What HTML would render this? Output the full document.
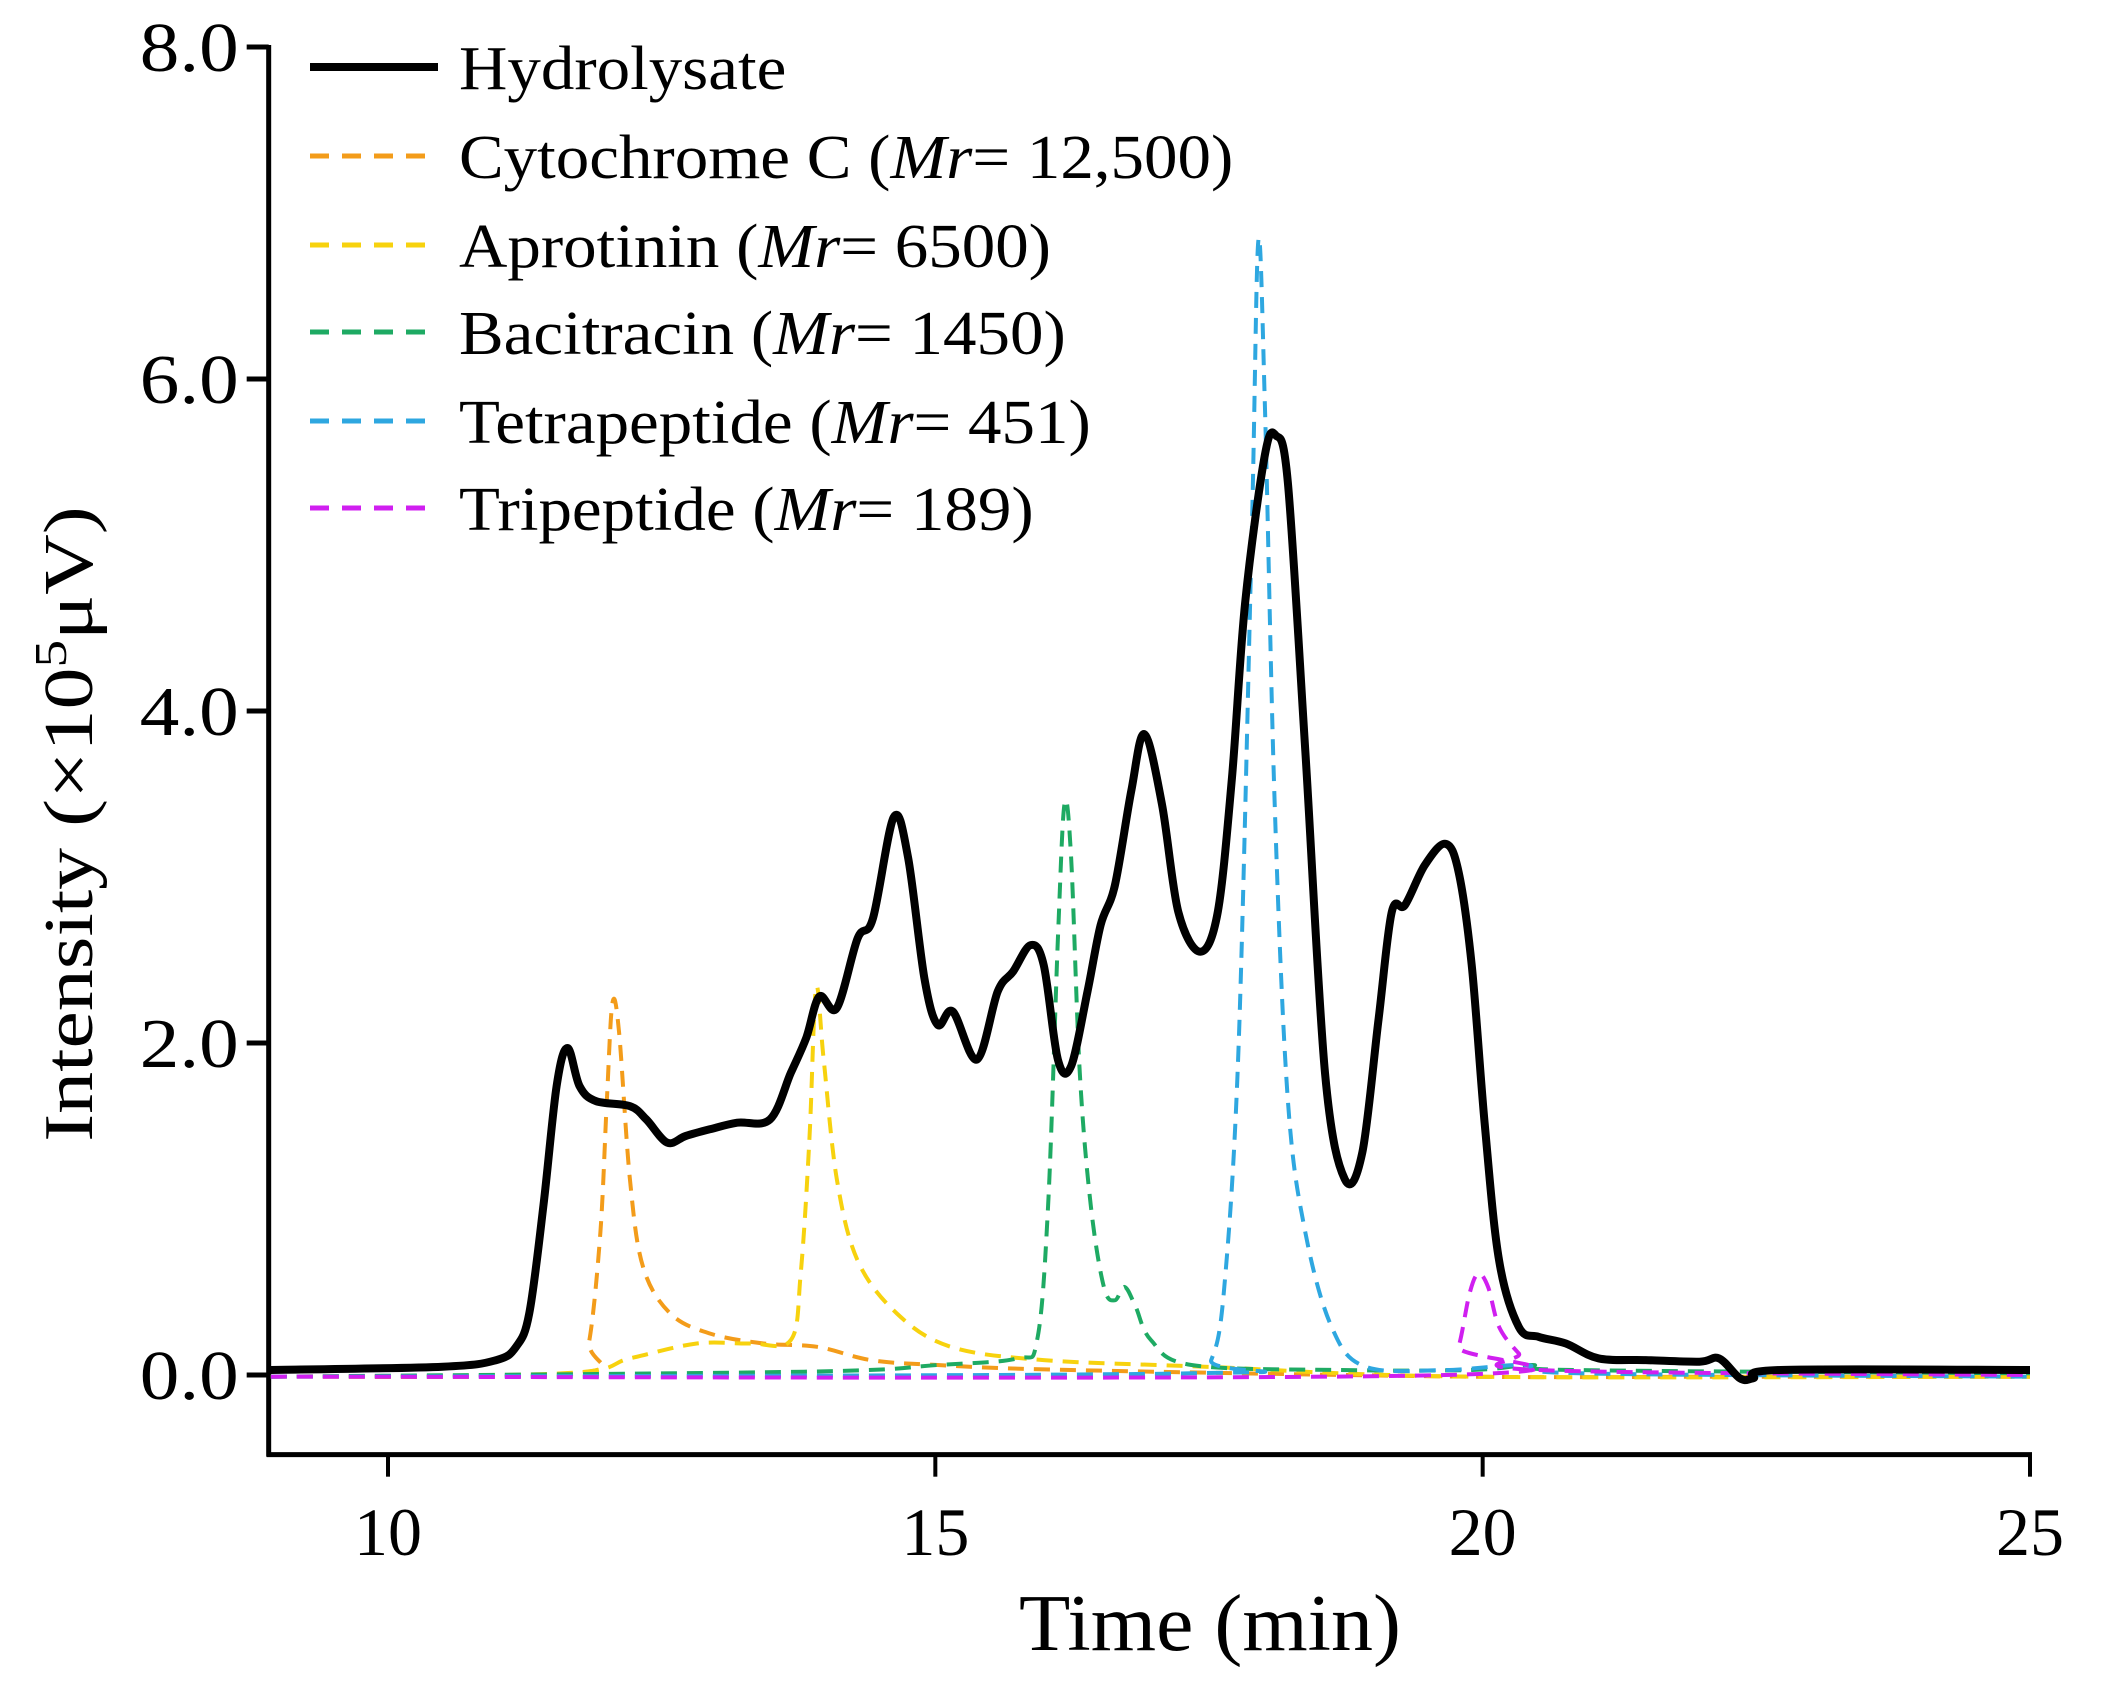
<!DOCTYPE html>
<html><head><meta charset="utf-8"><style>
html,body{margin:0;padding:0;background:#fff;}
svg{display:block;font-family:"Liberation Serif",serif;}
</style></head><body>
<svg id="chart" width="2101" height="1693" viewBox="0 0 2101 1693"></svg>
<script>
const xTicks=[10,15,20,25];
const yTicks=[0,2,4,6,8];
const yTickLabels=["0.0","2.0","4.0","6.0","8.0"];
const hydroT=[8.93,10.5,10.99,11.17,11.29,11.42,11.54,11.64,11.75,11.9,12.21,12.36,12.55,12.72,12.94,13.19,13.49,13.68,13.82,13.94,14.1,14.29,14.43,14.62,14.75,14.9,15.02,15.16,15.38,15.57,15.71,15.87,15.99,16.12,16.24,16.39,16.51,16.64,16.79,16.91,17.07,17.22,17.42,17.58,17.71,17.83,18.01,18.11,18.22,18.38,18.56,18.74,18.9,19.05,19.17,19.29,19.47,19.66,19.78,19.9,20.02,20.15,20.33,20.51,20.76,21.06,21.49,21.98,22.16,22.35,22.47,22.72,25];
const hydroV=[0.03,0.05,0.09,0.17,0.37,1.02,1.74,1.97,1.74,1.65,1.62,1.54,1.40,1.44,1.48,1.52,1.54,1.82,2.03,2.28,2.21,2.63,2.75,3.36,3.12,2.39,2.11,2.19,1.90,2.31,2.43,2.59,2.47,1.90,1.86,2.31,2.71,2.95,3.52,3.86,3.44,2.79,2.55,2.79,3.60,4.65,5.54,5.66,5.38,3.76,1.82,1.18,1.34,2.15,2.79,2.83,3.07,3.20,3.03,2.47,1.50,0.69,0.29,0.23,0.19,0.10,0.09,0.08,0.10,-0.02,-0.02,0.03,0.03];
const cytoT=[8.93,11.72,11.84,11.94,12.0,12.05,12.11,12.21,12.33,12.58,12.94,13.43,13.92,14.41,15.02,16.24,19.9,22.3,25];
const cytoV=[-0.01,0.01,0.21,0.86,1.66,2.24,2.07,1.18,0.65,0.37,0.25,0.19,0.17,0.09,0.06,0.03,-0.01,-0.01,-0.01];
const aproT=[8.93,11.6,12.21,12.82,13.31,13.68,13.77,13.85,13.91,13.98,14.1,14.29,14.65,15.14,15.99,17.46,19.9,25];
const aproV=[-0.01,0.01,0.1,0.19,0.19,0.21,0.61,1.42,2.33,1.9,1.18,0.69,0.37,0.17,0.09,0.05,-0.01,-0.01];
const baciT=[8.93,13.8,15.02,15.75,15.93,16.03,16.12,16.18,16.24,16.32,16.42,16.54,16.64,16.73,16.83,16.97,17.34,18.68,19.9,20.45,20.82,25];
const baciV=[-0.01,0.02,0.06,0.1,0.21,1.02,2.63,3.44,3.12,1.82,1.02,0.53,0.45,0.53,0.41,0.21,0.06,0.03,0.03,0.06,0.03,0.01];
const tetraT=[8.93,17.34,17.52,17.64,17.77,17.89,17.95,18.01,18.1,18.22,18.38,18.62,18.93,19.66,20.39,20.88,25];
const tetraV=[-0.01,0.01,0.09,0.53,1.98,5.05,6.83,5.86,3.44,1.66,0.86,0.29,0.05,0.03,0.06,0.01,-0.01];
const triT=[8.93,19.66,19.78,19.88,19.96,20.05,20.15,20.33,20.51,25];
const triV=[-0.01,0.0,0.17,0.49,0.61,0.53,0.29,0.13,0.03,0.0];
const legendLabels=["Hydrolysate","Cytochrome C","Aprotinin","Bacitracin","Tetrapeptide","Tripeptide"];
const legendMr=[null,"12,500","6500","1450","451","189"];

const NS="http://www.w3.org/2000/svg";
const svg=document.getElementById('chart');
const X0=8.91,X1=25,Y0=-0.48;
function sx(t){return 388+(t-10)*(2030-388)/15;}
function sy(v){return 1375-v*(1375-47)/8;}
function mk(tag,attrs,parent){const e=document.createElementNS(NS,tag);for(const k in attrs)e.setAttribute(k,attrs[k]);(parent||svg).appendChild(e);return e;}
function stretch(el,k){const w=el.getComputedTextLength();el.setAttribute('textLength',(w*k).toFixed(1));el.setAttribute('lengthAdjust','spacingAndGlyphs');}
function smooth(ts,vs){
  const p=ts.map((t,i)=>[sx(t),sy(vs[i])]);
  let d=`M${p[0][0].toFixed(1)},${p[0][1].toFixed(1)}`;
  for(let i=0;i<p.length-1;i++){
    const p0=p[Math.max(0,i-1)],p1=p[i],p2=p[i+1],p3=p[Math.min(p.length-1,i+2)];
    const k=1/6;
    const c1=[p1[0]+(p2[0]-p0[0])*k,p1[1]+(p2[1]-p0[1])*k];
    const c2=[p2[0]-(p3[0]-p1[0])*k,p2[1]-(p3[1]-p1[1])*k];
    d+=`C${c1[0].toFixed(1)},${c1[1].toFixed(1)} ${c2[0].toFixed(1)},${c2[1].toFixed(1)} ${p2[0].toFixed(1)},${p2[1].toFixed(1)}`;
  }
  return d;
}
const ax=mk('g',{});


const yAxis=mk('line',{x1:sx(X0),y1:sy(8)-2,x2:sx(X0),y2:sy(Y0)+2,stroke:'#000','stroke-width':5},ax);


const xAxis=mk('line',{x1:sx(X0)-2,y1:sy(Y0),x2:sx(X1)+2,y2:sy(Y0),stroke:'#000','stroke-width':5},ax);


yTicks.forEach((v,i)=>{
  const tk=mk('line',{x1:sx(X0)-22,y1:sy(v),x2:sx(X0),y2:sy(v),stroke:'#000','stroke-width':5},ax);
  
  
  const tl=mk('text',{x:sx(X0)-30,y:sy(v)+24,'text-anchor':'end','font-size':70},ax);
  tl.textContent=yTickLabels[i];
  
  
  stretch(tl,1.13);
});
xTicks.forEach(t=>{
  const tk=mk('line',{x1:sx(t),y1:sy(Y0),x2:sx(t),y2:sy(Y0)+22,stroke:'#000','stroke-width':4},ax);
  
  
  const tl=mk('text',{x:sx(t),y:1555,'text-anchor':'middle','font-size':68},ax);
  tl.textContent=String(t);
  
  
});
const xt=mk('text',{x:1210,y:1650,'text-anchor':'middle','font-size':80});
xt.textContent='Time (min)';


stretch(xt,1.05);
const yt=mk('text',{x:0,y:0,'text-anchor':'middle','font-size':70,transform:'translate(92,824) rotate(-90)'});
yt.innerHTML='Intensity (×10<tspan dy="-26" font-size="46">5</tspan><tspan dy="26">μV)</tspan>';


stretch(yt,1.2);

const series=[
 {t:cytoT,v:cytoV,c:'#f39c1a',n:'cytochrome-c-series'},
 {t:aproT,v:aproV,c:'#f7d20e',n:'aprotinin-series'},
 {t:baciT,v:baciV,c:'#1eaa63',n:'bacitracin-series'},
 {t:tetraT,v:tetraV,c:'#2ea7e0',n:'tetrapeptide-series'},
 {t:triT,v:triV,c:'#d01ff0',n:'tripeptide-series'}
];
series.forEach(s=>{
  const p=mk('path',{d:smooth(s.t,s.v),fill:'none',stroke:s.c,'stroke-width':4,'stroke-dasharray':'16 10'});
  
  
});
const hp=mk('path',{d:smooth(hydroT,hydroV),fill:'none',stroke:'#000','stroke-width':8,'stroke-linejoin':'round'});



const lg=mk('g',{});


const colors=['#000','#f39c1a','#f7d20e','#1eaa63','#2ea7e0','#d01ff0'];
const rowY=[67,156,245,332,421,508];
legendLabels.forEach((lab,i)=>{
  const y=rowY[i];
  const ln=mk('line',{x1:310,y1:y,x2:438,y2:y,stroke:colors[i],'stroke-width':i===0?8:5,'stroke-dasharray':i===0?'none':'19 13'},lg);
  
  
  const tx=mk('text',{x:459,y:y+22,'font-size':62},lg);
  if(legendMr[i]) tx.innerHTML=lab+' (<tspan font-style="italic">Mr</tspan>= '+legendMr[i]+')';
  else tx.textContent=lab;
  
  
  stretch(tx,1.08);
});
</script>
</body></html>
